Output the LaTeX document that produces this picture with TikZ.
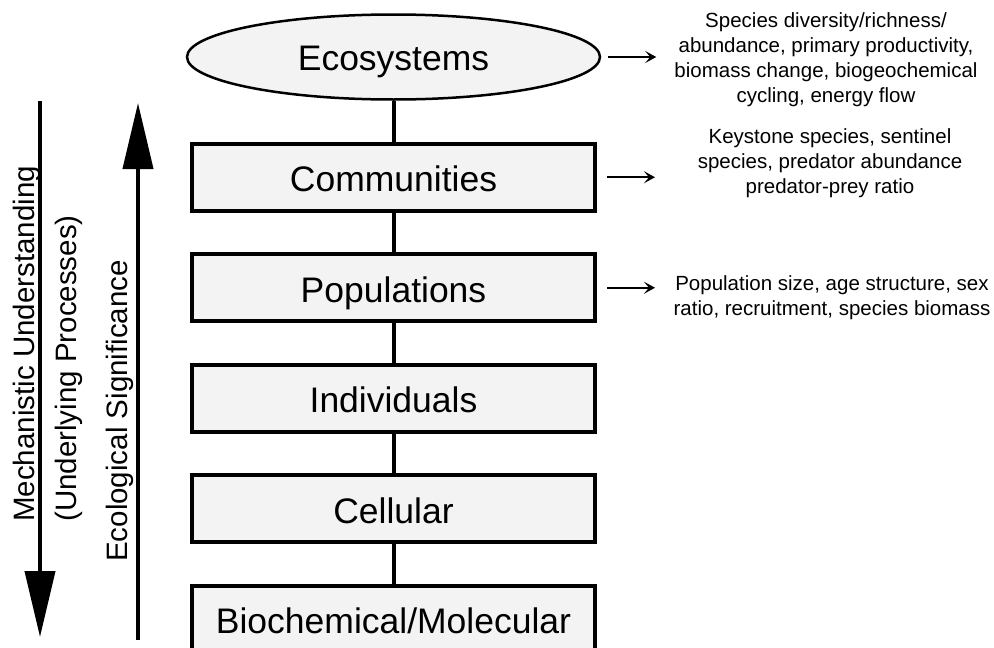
\documentclass[tikz,border=0pt]{standalone}
\usepackage{fontspec}
\setmainfont{Liberation Sans}
\usetikzlibrary{arrows.meta,positioning,shapes.geometric}
\definecolor{levelfill}{RGB}{243,243,243}
\tikzset{
  levelbox/.style={draw=black, line width=4pt, fill=levelfill,
    minimum width=403pt, minimum height=67pt, inner sep=0pt,
    text height=29pt, text depth=0pt, font=\fontsize{35.5}{42}\selectfont},
  levelellipse/.style={ellipse, draw=black, line width=2.5pt, fill=levelfill,
    minimum width=413pt, minimum height=85pt, inner sep=0pt,
    text height=27pt, text depth=0pt, font=\fontsize{35.5}{42}\selectfont},
  link/.style={line width=4pt},
  axisarrow/.style={line width=4pt, -{Triangle[length=66pt,width=30pt]}},
  metric/.style={line width=2pt, -{Stealth[length=11pt,width=12pt,inset=5pt]}},
  metrictext/.style={align=center, inner sep=0pt, font=\fontsize{20.5}{25}\selectfont},
  axislabel/.style={rotate=90, anchor=base west, align=left, inner sep=0pt,
    font=\fontsize{29.5}{42}\selectfont}
}

\begin{document}
\begin{tikzpicture}[x=1pt, y=-1pt, node distance=39.5pt]
\useasboundingbox (0,0) rectangle (994,648);

% levels of organisation
\node[levelellipse] (eco) at (393.5,57) {Ecosystems};
\node[levelbox, below=41pt of eco] (comm) {Communities};
\node[levelbox, below=of comm] (pop) {Populations};
\node[levelbox, below=of pop] (indiv) {Individuals};
\node[levelbox, below=of indiv] (cell) {Cellular};
\node[levelbox, below=of cell] (biochem) {Biochemical/Molecular};

\draw[link] (eco) -- (comm);
\draw[link] (comm) -- (pop);
\draw[link] (pop) -- (indiv);
\draw[link] (indiv) -- (cell);
\draw[link] (cell) -- (biochem);

% the two axes on the left
\coordinate (mechtop) at (40,101);
\coordinate (mechend) at (40,637);
\coordinate (sigstart) at (138,640);
\coordinate (sigend) at (138,103);
\draw[axisarrow] (mechtop) -- (mechend);
\draw[axisarrow] (sigstart) -- (sigend);

% base is the last line here
\node[axislabel] (mechlabel) at (76,522) {Mechanistic Understanding\\(Underlying Processes)};
\node[axislabel] (siglabel) at (127,562) {Ecological Significance};

% indicators
\node[metrictext] (ecolist) at (826,60) {Species diversity/richness/\\abundance, primary productivity,\\biomass change, biogeochemical\\cycling, energy flow};
\node[metrictext] (commlist) at (830,163) {Keystone species, sentinel\\species, predator abundance\\predator-prey ratio};
\node[metrictext] (poplist) at (832,298) {Population size, age structure, sex\\ratio, recruitment, species biomass};

\draw[metric] ([xshift=7pt]eco.east) -- ++(48,0);
\draw[metric] ([xshift=10pt]comm.east) -- ++(48,0);
\draw[metric] ([xshift=10pt]pop.east) -- ++(48,0);
\end{tikzpicture}
\end{document}
